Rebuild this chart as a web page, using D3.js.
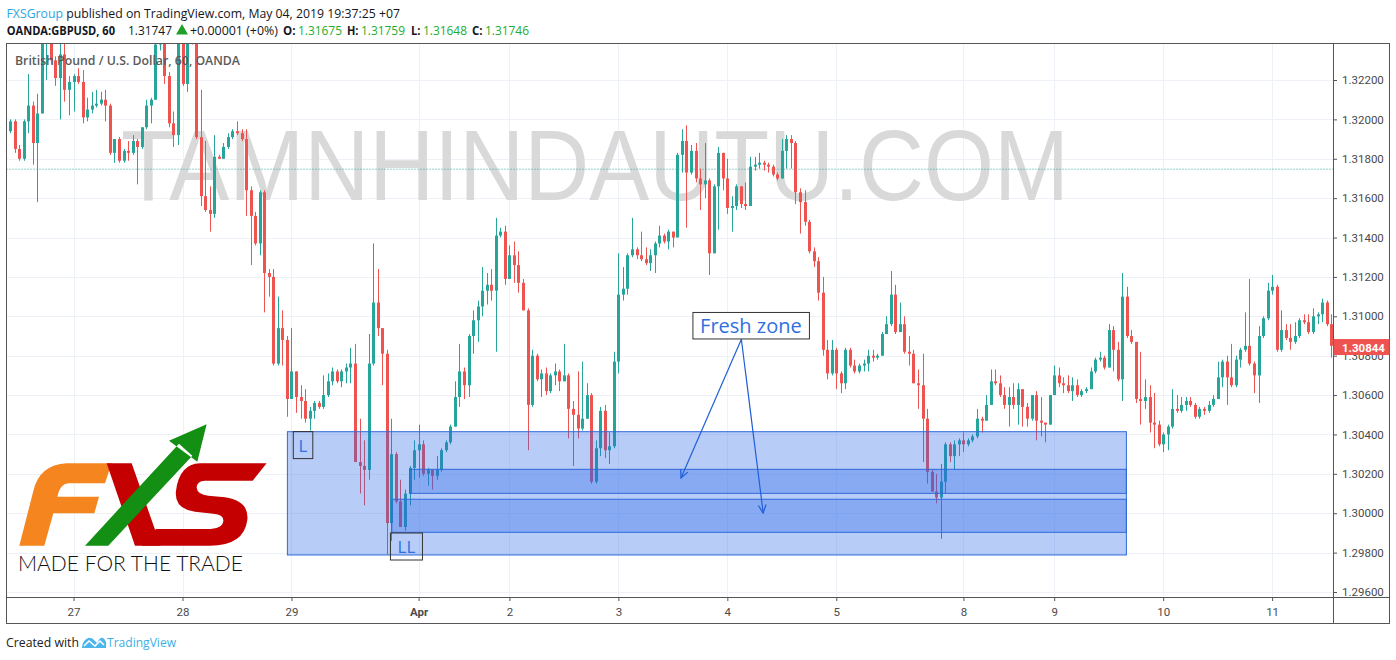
<!DOCTYPE html>
<html><head><meta charset="utf-8">
<script src="https://cdn.jsdelivr.net/npm/d3@7"></script>
<style>
html,body{margin:0;padding:0;background:#fff;}
svg{display:block;font-family:"Open Sans",sans-serif;}
</style></head><body>
<svg id="c" width="1396" height="660"></svg>
<script>
// ---------- DATA (GBPUSD 60 min, OANDA) ----------
const firstOpen = 1.3194;
const closes = [
1.3199,1.3185,1.3180,1.3199,1.3207,1.3188,1.3203,1.3242,1.3246,1.3230,
1.3221,1.3233,1.3215,1.3219,1.3222,1.3219,1.3201,1.3205,1.3207,1.3208,
1.3210,1.3207,1.3183,1.3190,1.3179,1.3184,1.3183,1.3189,1.3186,1.3196,
1.3207,1.3210,1.3238,1.3250,1.3222,1.3198,1.3192,1.3243,1.3218,1.3245,
1.3242,1.3191,1.3161,1.3154,1.3152,1.3181,1.3180,1.3186,1.3191,1.3194,
1.3193,1.3190,1.3164,1.3151,1.3137,1.3163,1.3122,1.3120,1.3076,1.3094,
1.3088,1.3058,1.3072,1.3059,1.3057,1.3048,1.3052,1.3056,1.3054,1.3060,
1.3067,1.3072,1.3067,1.3072,1.3074,1.3076,1.3026,1.3024,1.3022,1.3076,
1.3107,1.3094,1.3081,1.2995,1.3030,1.3006,1.2993,1.3010,1.3023,1.3032,
1.3035,1.3020,1.3022,1.3019,1.3022,1.3032,1.3036,1.3044,1.3059,1.3072,
1.3065,1.3090,1.3098,1.3105,1.3113,1.3116,1.3113,1.3141,1.3143,1.3119,
1.3131,1.3126,1.3117,1.3103,1.3055,1.3080,1.3068,1.3071,1.3062,1.3070,
1.3072,1.3067,1.3070,1.3053,1.3050,1.3043,1.3048,1.3060,1.3016,1.3033,
1.3052,1.3032,1.3034,1.3077,1.3111,1.3114,1.3131,1.3134,1.3131,1.3129,
1.3127,1.3131,1.3137,1.3141,1.3138,1.3143,1.3140,1.3182,1.3189,1.3173,
1.3184,1.3170,1.3167,1.3169,1.3132,1.3166,1.3183,1.3170,1.3155,1.3156,
1.3166,1.3157,1.3156,1.3176,1.3177,1.3178,1.3177,1.3176,1.3172,1.3170,
1.3184,1.3190,1.3188,1.3163,1.3158,1.3148,1.3133,1.3128,1.3112,1.3083,
1.3071,1.3083,1.3071,1.3066,1.3083,1.3075,1.3072,1.3075,1.3076,1.3080,
1.3079,1.3080,1.3091,1.3096,1.3111,1.3092,1.3096,1.3082,1.3081,1.3066,
1.3065,1.3048,1.3021,1.3011,1.3008,1.3016,1.3035,1.3029,1.3035,1.3037,
1.3035,1.3037,1.3039,1.3048,1.3047,1.3055,1.3067,1.3066,1.3060,1.3055,
1.3059,1.3055,1.3063,1.3054,1.3048,1.3060,1.3047,1.3046,1.3045,1.3060,
1.3070,1.3066,1.3065,1.3062,1.3065,1.3060,1.3062,1.3063,1.3072,1.3078,
1.3079,1.3074,1.3093,1.3083,1.3068,1.3110,1.3090,1.3087,1.3058,1.3057,
1.3059,1.3046,1.3045,1.3035,1.3040,1.3044,1.3053,1.3052,1.3055,1.3057,
1.3055,1.3049,1.3053,1.3052,1.3055,1.3058,1.3069,1.3077,1.3069,1.3065,
1.3078,1.3083,1.3085,1.3076,1.3070,1.3090,1.3099,1.3113,1.3115,1.3083,
1.3093,1.3089,1.3087,1.3090,1.3098,1.3097,1.3092,1.3100,1.3101,1.3107,
1.3096,1.3085];
const highs = [
1.3200,1.3200,1.3187,1.3200,1.3223,1.3209,1.3213,1.3248,1.3252,1.3250,
1.3232,1.3240,1.3240,1.3222,1.3223,1.3226,1.3225,1.3211,1.3214,1.3215,
1.3214,1.3215,1.3208,1.3190,1.3191,1.3185,1.3189,1.3192,1.3190,1.3196,
1.3210,1.3211,1.3242,1.3256,1.3252,1.3224,1.3204,1.3250,1.3250,1.3252,
1.3255,1.3245,1.3215,1.3189,1.3166,1.3192,1.3182,1.3188,1.3193,1.3195,
1.3199,1.3195,1.3195,1.3166,1.3153,1.3164,1.3164,1.3124,1.3124,1.3110,
1.3103,1.3090,1.3094,1.3072,1.3065,1.3063,1.3054,1.3057,1.3057,1.3070,
1.3071,1.3074,1.3073,1.3073,1.3076,1.3084,1.3086,1.3048,1.3037,1.3091,
1.3137,1.3124,1.3094,1.3083,1.3048,1.3031,1.3017,1.3012,1.3024,1.3037,
1.3045,1.3037,1.3023,1.3022,1.3029,1.3033,1.3037,1.3045,1.3067,1.3086,
1.3074,1.3091,1.3103,1.3108,1.3125,1.3122,1.3124,1.3150,1.3145,1.3146,
1.3136,1.3138,1.3133,1.3119,1.3104,1.3083,1.3081,1.3073,1.3074,1.3071,
1.3076,1.3073,1.3086,1.3071,1.3057,1.3072,1.3077,1.3066,1.3061,1.3037,
1.3054,1.3055,1.3041,1.3082,1.3132,1.3125,1.3132,1.3150,1.3135,1.3143,
1.3135,1.3134,1.3138,1.3146,1.3142,1.3144,1.3143,1.3183,1.3195,1.3197,
1.3187,1.3188,1.3175,1.3188,1.3170,1.3167,1.3186,1.3183,1.3180,1.3161,
1.3167,1.3166,1.3168,1.3181,1.3181,1.3183,1.3179,1.3178,1.3177,1.3173,
1.3190,1.3192,1.3192,1.3189,1.3165,1.3164,1.3149,1.3135,1.3130,1.3120,
1.3088,1.3088,1.3084,1.3072,1.3084,1.3084,1.3078,1.3076,1.3078,1.3083,
1.3083,1.3081,1.3092,1.3100,1.3123,1.3116,1.3107,1.3100,1.3090,1.3083,
1.3073,1.3081,1.3053,1.3022,1.3020,1.3025,1.3036,1.3036,1.3037,1.3038,
1.3041,1.3038,1.3040,1.3053,1.3049,1.3060,1.3073,1.3073,1.3070,1.3064,
1.3064,1.3066,1.3066,1.3063,1.3056,1.3060,1.3062,1.3059,1.3046,1.3060,
1.3075,1.3074,1.3069,1.3070,1.3069,1.3068,1.3063,1.3064,1.3074,1.3079,
1.3082,1.3080,1.3096,1.3095,1.3087,1.3122,1.3115,1.3093,1.3087,1.3082,
1.3068,1.3065,1.3061,1.3047,1.3041,1.3045,1.3063,1.3060,1.3059,1.3059,
1.3059,1.3056,1.3054,1.3054,1.3057,1.3060,1.3077,1.3078,1.3080,1.3086,
1.3080,1.3084,1.3102,1.3119,1.3077,1.3095,1.3100,1.3117,1.3121,1.3116,
1.3103,1.3096,1.3096,1.3097,1.3099,1.3101,1.3101,1.3104,1.3102,1.3109,
1.3108,1.3101];
const lows = [
1.3193,1.3183,1.3179,1.3179,1.3193,1.3177,1.3158,1.3203,1.3220,1.3228,
1.3217,1.3200,1.3209,1.3202,1.3204,1.3218,1.3198,1.3199,1.3203,1.3206,
1.3207,1.3199,1.3182,1.3178,1.3178,1.3178,1.3179,1.3182,1.3167,1.3185,
1.3195,1.3198,1.3210,1.3235,1.3218,1.3196,1.3186,1.3187,1.3217,1.3214,
1.3238,1.3190,1.3156,1.3153,1.3143,1.3150,1.3180,1.3180,1.3185,1.3190,
1.3192,1.3189,1.3151,1.3126,1.3136,1.3131,1.3102,1.3110,1.3075,1.3075,
1.3075,1.3049,1.3058,1.3051,1.3048,1.3046,1.3042,1.3048,1.3053,1.3053,
1.3059,1.3065,1.3066,1.3064,1.3066,1.3066,1.3026,1.3010,1.3004,1.3017,
1.3075,1.3090,1.3065,1.2979,1.2986,1.3005,1.2993,1.2991,1.3004,1.3017,
1.3018,1.3019,1.3014,1.3012,1.3017,1.3021,1.3031,1.3035,1.3044,1.3054,
1.3058,1.3059,1.3081,1.3087,1.3100,1.3106,1.3108,1.3082,1.3140,1.3116,
1.3119,1.3117,1.3112,1.3103,1.3032,1.3054,1.3067,1.3059,1.3060,1.3061,
1.3065,1.3062,1.3067,1.3038,1.3024,1.3038,1.3042,1.3048,1.3015,1.3015,
1.3029,1.3028,1.3025,1.3033,1.3071,1.3108,1.3111,1.3130,1.3129,1.3128,
1.3126,1.3123,1.3122,1.3135,1.3137,1.3134,1.3135,1.3141,1.3173,1.3145,
1.3172,1.3168,1.3154,1.3160,1.3121,1.3132,1.3144,1.3164,1.3152,1.3143,
1.3154,1.3155,1.3154,1.3156,1.3174,1.3175,1.3174,1.3173,1.3171,1.3169,
1.3170,1.3175,1.3175,1.3157,1.3142,1.3146,1.3132,1.3125,1.3108,1.3080,
1.3068,1.3070,1.3063,1.3061,1.3063,1.3074,1.3071,1.3071,1.3072,1.3072,
1.3077,1.3078,1.3080,1.3091,1.3095,1.3091,1.3092,1.3081,1.3075,1.3066,
1.3053,1.3026,1.3015,1.3011,1.3005,1.2987,1.3010,1.3026,1.3022,1.3029,
1.3031,1.3034,1.3036,1.3038,1.3041,1.3047,1.3055,1.3065,1.3059,1.3053,
1.3044,1.3053,1.3045,1.3044,1.3044,1.3047,1.3037,1.3039,1.3036,1.3045,
1.3060,1.3064,1.3061,1.3061,1.3057,1.3059,1.3059,1.3061,1.3063,1.3071,
1.3077,1.3073,1.3074,1.3072,1.3067,1.3057,1.3089,1.3086,1.3056,1.3045,
1.3053,1.3041,1.3033,1.3034,1.3031,1.3032,1.3043,1.3051,1.3051,1.3052,
1.3054,1.3048,1.3048,1.3050,1.3051,1.3054,1.3058,1.3064,1.3055,1.3064,
1.3064,1.3074,1.3082,1.3075,1.3061,1.3056,1.3089,1.3098,1.3111,1.3082,
1.3082,1.3088,1.3083,1.3086,1.3089,1.3096,1.3091,1.3091,1.3096,1.3097,
1.3095,1.3079];
const dayTickIndex  = [14, 38, 62, 90, 110, 134, 158, 182, 210, 230, 254, 278];
const dayTickLabels = ["27","28","29","Apr","2","3","4","5","8","9","10","11"];
const priceTicks = [1.296,1.298,1.300,1.302,1.304,1.306,1.308,1.310,1.312,1.314,1.316,1.318,1.320,1.322];
const livePrice = 1.31747;        // dotted last-price line
const lastBarClose = 1.30844;     // price-axis label
// zones: start/end candle index, top/bottom price
const zoneStart = [61.1, 88.0, 84.1];
const zoneEnd   = [245.9, 245.9, 245.9];
const zoneTop   = [1.30414, 1.30223, 1.30071];
const zoneBot   = [1.29788, 1.30101, 1.29903];
// annotations (index, price)
const labelText  = ["L", "LL"];
const labelIndex = [62.4, 83.8];
const labelPrice = [1.30346, 1.29831];
const freshIdx = 163.2, freshPrice = 1.30951;
const arrowFrom = [161.1, 1.30883];
const arrowTo   = [[147.8, 1.30179], [165.9, 1.30001]];
// header quote values
const quoteSymbol = "OANDA:GBPUSD, 60";
const quoteLast = "1.31747", quoteChange = "+0.00001 (+0%)";
const ohlcKeys = ["O:","H:","L:","C:"];
const ohlcVals = ["1.31675","1.31759","1.31648","1.31746"];

// ---------- LAYOUT ----------
const paneL = 6.5, paneR = 1333, paneT = 43.5, paneB = 597;
const x = d3.scaleLinear().domain([0, closes.length - 1]).range([10, 10 + 4.54 * (closes.length - 1)]);
const y = d3.scaleLinear().domain([1.296, 1.322]).range([592, 80]);
const UP = "#26a69a", DN = "#ef5350";

const svg = d3.select("#c");
svg.append("rect").attr("width",1396).attr("height",660).attr("fill","#fff");
const defs = svg.append("defs");
defs.append("clipPath").attr("id","pane").append("rect")
  .attr("x",paneL).attr("y",paneT).attr("width",paneR-paneL).attr("height",paneB-paneT);

const pane = svg.append("g").attr("clip-path","url(#pane)");
// grid
pane.append("g").selectAll("line").data(priceTicks).join("line")
  .attr("x1",paneL).attr("x2",paneR).attr("y1",d=>Math.round(y(d))+0.5).attr("y2",d=>Math.round(y(d))+0.5)
  .attr("stroke","#eef2f8");
pane.append("g").selectAll("line").data(dayTickIndex).join("line")
  .attr("y1",paneT).attr("y2",paneB).attr("x1",d=>Math.round(x(d))+0.5).attr("x2",d=>Math.round(x(d))+0.5)
  .attr("stroke","#eef2f8");
// watermark
pane.append("text").text("TAMNHINDAUTU.COM")
  .attr("x",121).attr("y",200).attr("font-family","Liberation Sans, Arial, sans-serif")
  .attr("font-size",100).attr("textLength",948).attr("lengthAdjust","spacingAndGlyphs")
  .attr("fill","#d9d9d9");
// last price dotted line
pane.append("line").attr("x1",paneL).attr("x2",paneR)
  .attr("y1",y(livePrice)).attr("y2",y(livePrice))
  .attr("stroke","#26a69a").attr("stroke-dasharray","1,2");
// candles
const opens = closes.map((c,i)=> i===0 ? firstOpen : closes[i-1]);
const candles = closes.map((c,i)=>({i, o:opens[i], h:highs[i], l:lows[i], c}));
const cg = pane.append("g");
cg.selectAll("line").data(candles).join("line")
  .attr("x1",d=>Math.round(x(d.i))+0.5).attr("x2",d=>Math.round(x(d.i))+0.5)
  .attr("y1",d=>y(d.h)).attr("y2",d=>y(d.l))
  .attr("stroke",d=>d.c>=d.o?UP:DN).attr("stroke-width",1);
cg.selectAll("rect").data(candles).join("rect")
  .attr("x",d=>Math.round(x(d.i))-1).attr("width",3)
  .attr("y",d=>y(Math.max(d.o,d.c)))
  .attr("height",d=>Math.max(1,Math.abs(y(d.o)-y(d.c))))
  .attr("fill",d=>d.c>=d.o?UP:DN);
// zones
const zg = pane.append("g");
zoneStart.forEach((s,k)=>{
  zg.append("rect")
    .attr("x",x(s)).attr("width",x(zoneEnd[k])-x(s))
    .attr("y",y(zoneTop[k])).attr("height",y(zoneBot[k])-y(zoneTop[k]))
    .attr("fill","rgba(40,100,235,0.33)").attr("stroke","#2f6ad8").attr("stroke-width",1);
});
// L / LL labels
labelText.forEach((t,k)=>{
  const cx = x(labelIndex[k]), cy = y(labelPrice[k]);
  const w = t.length===1 ? 19.5 : 32, h = 27;
  pane.append("rect").attr("x",cx).attr("y",cy-h/2).attr("width",w).attr("height",h)
    .attr("fill","none").attr("stroke","#333").attr("stroke-width",1);
  pane.append("text").text(t).attr("x",cx+w/2).attr("y",cy+6.5).attr("text-anchor","middle")
    .attr("font-size",17).attr("fill","#2f6fe0");
});
// arrows
const ag = pane.append("g").attr("stroke","#1f5fd6").attr("stroke-width",1.2).attr("fill","none");
arrowTo.forEach(([ti,tp])=>{
  const x0=x(arrowFrom[0]), y0=y(arrowFrom[1]), x1=x(ti), y1=y(tp);
  ag.append("line").attr("x1",x0).attr("y1",y0).attr("x2",x1).attr("y2",y1);
  const a = Math.atan2(y1-y0,x1-x0), L=9, s=0.45;
  ag.append("path").attr("d",`M${x1-L*Math.cos(a-s)},${y1-L*Math.sin(a-s)}L${x1},${y1}L${x1-L*Math.cos(a+s)},${y1-L*Math.sin(a+s)}`);
});
// Fresh zone label
const fx = x(freshIdx), fy = y(freshPrice);
pane.append("rect").attr("x",fx-58).attr("y",fy-13.5).attr("width",116.5).attr("height",26.5)
  .attr("fill","#fff").attr("stroke","#333").attr("stroke-width",1);
pane.append("text").text("Fresh zone").attr("x",fx).attr("y",fy+7).attr("text-anchor","middle")
  .attr("font-size",20).attr("fill","#2f6fe0");

// ---------- LOGO ----------
const logo = svg.append("g").attr("transform","translate(0,415) scale(0.3333)");
logo.append("path").attr("fill","#f5861f")
  .attr("d","M58,392 L100,228 Q118,150 200,145 L335,145 L315,205 L205,205 Q180,207 172,245 L297,245 L283,295 L160,295 L133,392 Z");
logo.append("path").attr("fill","#c40000")
  .attr("d","M320,145 L395,145 L482,392 L405,392 Z");
logo.append("path").attr("fill","#c40000")
  .attr("d","M600,145 L800,145 L758,197 L615,197 Q590,198 590,218 Q592,238 625,242 L675,247 Q748,258 742,315 Q732,392 630,392 L425,392 L468,342 L620,342 Q668,342 670,318 Q672,298 640,296 L585,290 Q522,282 528,228 Q538,147 600,145 Z");
logo.append("path").attr("fill","#139013")
  .attr("d","M255,392 L325,392 L577,122 L537,86 Z M507,77 L620,28 L592,140 Z");
svg.append("text").text("MADE FOR THE TRADE").attr("x",18).attr("y",571)
  .attr("font-family","Lato, sans-serif").attr("font-weight",300).attr("font-size",22)
  .attr("textLength",225).attr("lengthAdjust","spacingAndGlyphs").attr("fill","#111");

// ---------- AXES ----------
const yAxis = d3.axisRight(y).tickValues(priceTicks).tickFormat(d3.format(".5f")).tickSize(4).tickPadding(5);
const ya = svg.append("g").attr("transform",`translate(${paneR},0)`).call(yAxis);
const xAxis = d3.axisBottom(x).tickValues(dayTickIndex).tickFormat((d,i)=>dayTickLabels[i]).tickSize(4).tickPadding(7);
const xa = svg.append("g").attr("transform",`translate(0,${paneB})`).call(xAxis);
[ya,xa].forEach(g=>{
  g.select(".domain").remove();
  g.selectAll(".tick line").attr("stroke","#555");
  g.selectAll(".tick text").attr("fill","#4a4a4a").attr("font-family","Roboto, sans-serif").attr("font-size",11.5);
});
xa.selectAll(".tick text").attr("font-weight",(d,i)=>dayTickLabels[i]==="Apr"?700:400);
// frame lines
svg.append("line").attr("x1",paneR+0.5).attr("x2",paneR+0.5).attr("y1",paneT).attr("y2",623.5).attr("stroke","#555");
svg.append("line").attr("x1",paneL).attr("x2",1389.5).attr("y1",paneB+0.5).attr("y2",paneB+0.5).attr("stroke","#555");
svg.append("rect").attr("x",paneL).attr("y",paneT).attr("width",1389.5-paneL).attr("height",623.5-paneT)
  .attr("fill","none").attr("stroke","#555");
// last close label (covers the neighbouring tick label like the original)
const ly = y(lastBarClose);
svg.append("rect").attr("x",paneR+0.5).attr("y",ly-8).attr("width",56).attr("height",16).attr("fill","#ef5350");
svg.append("text").text(d3.format(".5f")(lastBarClose)).attr("x",paneR+9).attr("y",ly+4.5)
  .attr("fill","#fff").attr("font-family","Roboto, sans-serif").attr("font-weight",700).attr("font-size",11.5);

// ---------- TEXTS ----------
svg.append("text").attr("x",15).attr("y",65).attr("font-size",13).attr("font-weight",600)
  .attr("fill","#5a5a5a").attr("textLength",225).attr("lengthAdjust","spacingAndGlyphs")
  .text("British Pound / U.S. Dollar, 60, OANDA");
const t1 = svg.append("text").attr("x",6.5).attr("y",17.5).attr("font-size",13)
  .attr("textLength",393.5).attr("lengthAdjust","spacingAndGlyphs").attr("fill","#131722");
t1.append("tspan").attr("fill","#2ea6df").text("FXSGroup");
t1.append("tspan").text(" published on TradingView.com, May 04, 2019 19:37:25 +07");
// second header line: each piece placed where it sits in the original
const G = "#22ad2e";
const hdr = svg.append("g").attr("font-size",12.5).attr("fill","#131722");
const seg = (txt,x0,w,opt={})=>hdr.append("text").text(txt).attr("x",x0).attr("y",34.5)
  .attr("textLength",w).attr("lengthAdjust","spacingAndGlyphs")
  .attr("font-weight",opt.b?700:400).attr("fill",opt.c||"#131722");
seg(quoteSymbol, 6.7, 108.3, {b:1});
seg(quoteLast, 128, 44);
hdr.append("path").attr("d","M176,34.5 L188,34.5 L182,24 Z").attr("fill","#1e9e2a");
seg(quoteChange, 190, 88);
const keyX = [283, 347, 411, 472], valX = [298, 361, 423, 485];
ohlcKeys.forEach((k,i)=>{
  seg(k, keyX[i], valX[i]-keyX[i]-2.5, {b:1});
  seg(ohlcVals[i], valX[i], 44, {c:G});
});
// footer
svg.append("text").attr("x",6).attr("y",647).attr("font-size",13.5).attr("fill","#222")
  .attr("textLength",73).attr("lengthAdjust","spacingAndGlyphs").text("Created with");
svg.append("path").attr("fill","#4cb6ea")
  .attr("d","M82,648 Q82,641 88,638 Q92,637 95,641 L97,643 Q100,637 103,638 Q107,640 106,648 Z");
svg.append("path").attr("fill","none").attr("stroke","#fff").attr("stroke-width",1.5)
  .attr("d","M84,646 L89,641 L95,646 L100,641 L104,645");
svg.append("text").attr("x",107).attr("y",647).attr("font-size",13.5).attr("fill","#3cb0e6")
  .attr("textLength",69).attr("lengthAdjust","spacingAndGlyphs").text("TradingView");
</script>
</body></html>
